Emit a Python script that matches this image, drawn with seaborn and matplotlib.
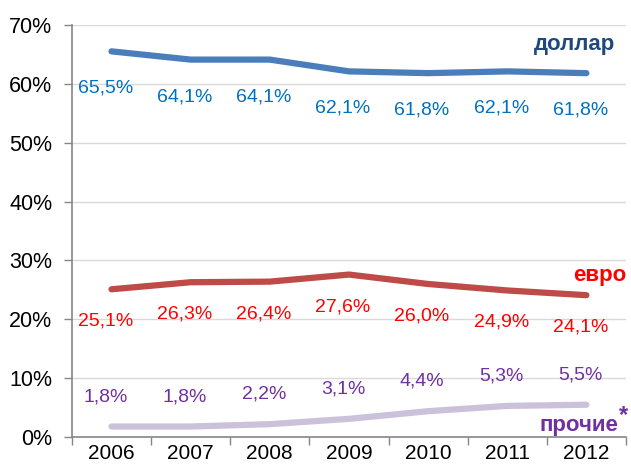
import pandas as pd
import seaborn as sns
import matplotlib.pyplot as plt
from matplotlib.ticker import FixedLocator

# data
years = ["2006", "2007", "2008", "2009", "2010", "2011", "2012"]
dollar = [65.5, 64.1, 64.1, 62.1, 61.8, 62.1, 61.8]
euro = [25.1, 26.3, 26.4, 27.6, 26.0, 24.9, 24.1]
other = [1.8, 1.8, 2.2, 3.1, 4.4, 5.3, 5.5]
series_names = ["доллар", "евро", "прочие"]

df = pd.DataFrame({
    "x": list(range(len(years))) * 3,
    "share": dollar + euro + other,
    "series": [s for s in series_names for _ in years],
})

sns.set_theme(style="white")
plt.rcParams["font.family"] = ["Liberation Sans", "DejaVu Sans"]

line_colors = {"доллар": "#4a7ebb", "евро": "#be4b48", "прочие": "#ccc1da"}
label_colors = {"доллар": "#0070c0", "евро": "#ff0000", "прочие": "#7030a0"}
name_colors = {"доллар": "#1f497d", "евро": "#ff0000", "прочие": "#7030a0"}
label_offset = {"доллар": -37, "евро": -32, "прочие": 30}

fig = plt.figure(figsize=(6.31, 4.69), dpi=100)
ax = fig.add_axes([0.114, 0.068, 0.878, 0.879])

sns.lineplot(data=df, x="x", y="share", hue="series", palette=line_colors,
             linewidth=4.5, legend=False, ax=ax, solid_capstyle="round")

# data labels
for name, vals in zip(series_names, [dollar, euro, other]):
    for i, v in enumerate(vals):
        ax.annotate(f"{v:.1f}%".replace(".", ","), (i, v),
                    textcoords="offset pixels", xytext=(-6, label_offset[name]),
                    ha="center", va="center", fontsize=14,
                    color=label_colors[name])

# series names
ax.text(6.36, 66.6, "доллар", ha="right", va="center", fontsize=16,
        fontweight="bold", color=name_colors["доллар"])
ax.text(6.51, 27.5, "евро", ha="right", va="center", fontsize=16,
        fontweight="bold", color=name_colors["евро"])
ax.text(6.41, 1.9, "прочие", ha="right", va="center", fontsize=16,
        fontweight="bold", color=name_colors["прочие"])
ax.text(6.41, 3.6, "*", ha="left", va="center", fontsize=17,
        fontweight="bold", color=name_colors["прочие"], clip_on=False)

ax.set_xlim(-0.5, 6.5)
ax.set_ylim(0, 70)
ax.set_xticks(range(len(years)))
ax.set_xticklabels(years)
ax.xaxis.set_minor_locator(FixedLocator([k - 0.5 for k in range(len(years) + 1)]))
ax.set_yticks(range(0, 71, 10))
ax.set_yticklabels([f"{t}%" for t in range(0, 71, 10)])
ax.tick_params(axis="x", which="major", length=0, pad=5, labelsize=15, colors="black")
ax.tick_params(axis="x", which="minor", length=6, width=1, color="#868686", direction="out", bottom=True)
ax.tick_params(axis="y", length=6, width=1, color="#868686", direction="out", left=True,
               labelsize=15.5, labelcolor="black", pad=8)
ax.set_xlabel("")
ax.set_ylabel("")

ax.grid(axis="y", color="#d9d9d9", linewidth=1)
ax.set_axisbelow(True)
for side in ["top", "right"]:
    ax.spines[side].set_visible(False)
for side in ["left", "bottom"]:
    ax.spines[side].set_color("#868686")
    ax.spines[side].set_linewidth(1.2)

fig.savefig("out.png", dpi=100)
